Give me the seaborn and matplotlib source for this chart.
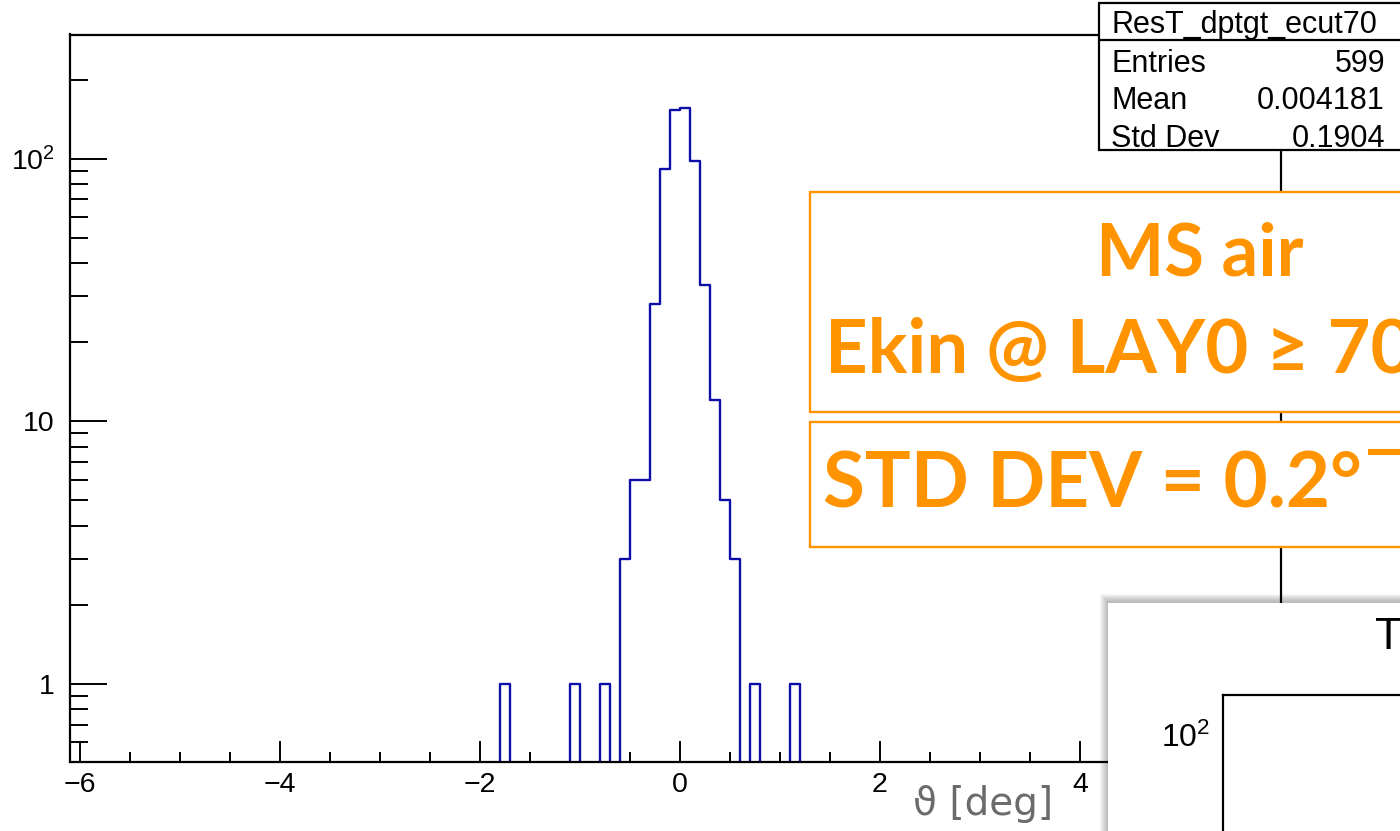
import numpy as np
import pandas as pd
import matplotlib
matplotlib.use("Agg")
import matplotlib.pyplot as plt
from matplotlib.patches import Rectangle
from matplotlib.lines import Line2D
from matplotlib.ticker import FixedLocator, FixedFormatter, MultipleLocator, LogLocator, NullFormatter
import seaborn as sns

# ---------------- data ----------------
bin_centers = [-1.75, -1.05, -0.75, -0.55, -0.45, -0.35, -0.25, -0.15, -0.05,
               0.05, 0.15, 0.25, 0.35, 0.45, 0.55, 0.75, 1.15]
counts = [1, 1, 1, 3, 6, 6, 28, 91, 153, 156, 98, 33, 12, 5, 3, 1, 1]
bin_width = 0.1
hist_range = (-6.1, 6.0)

x_major_ticks = [-6, -4, -2, 0, 2, 4, 6]
y_major_ticks = [1, 10, 100]
y_major_labels = ["1", "10", "$10^{2}$"]

hist_name = "ResT_dptgt_ecut70"
stat_names = ["Entries", "Mean", "Std Dev"]
stat_values = ["599", "0.004181", "0.1904"]

x_title = "ϑ [deg]"
note_line1 = "MS air"
note_line2 = "Ekin @ LAY0 ≥ 70"
note_line3 = "STD DEV = 0.2°"
inset_title = "T"

df = pd.DataFrame({"theta": bin_centers, "count": counts})

# ---------------- style ----------------
sns.set_style("white")
plt.rcParams["font.family"] = ["Liberation Sans", "DejaVu Sans"]
plt.rcParams["mathtext.fontset"] = "custom"
plt.rcParams["mathtext.rm"] = "Liberation Sans"
plt.rcParams["mathtext.it"] = "Liberation Sans:italic"
plt.rcParams["mathtext.bf"] = "Liberation Sans:bold"
plt.rcParams["text.color"] = "black"
plt.rcParams["xtick.color"] = "black"
plt.rcParams["ytick.color"] = "black"
plt.rcParams["xtick.labelcolor"] = "black"
plt.rcParams["ytick.labelcolor"] = "black"

W, H = 1400, 831
fig = plt.figure(figsize=(W / 100, H / 100), dpi=100)
fig.patch.set_facecolor("white")

def fx(px):
    return px / W

def fy(py):
    return 1 - py / H

def fbox(x0, y0, x1, y1):
    return [fx(x0), fy(y1), (x1 - x0) / W, (y1 - y0) / H]

BLACK_LW = 1.6
ORANGE = "#ff9300"
BLUE = "#0d0da8"

# ---------------- main histogram ----------------
ax = fig.add_axes(fbox(70, 34.5, 1280.5, 762.3))
ax.set_zorder(0)
sns.histplot(data=df, x="theta", weights="count", binwidth=bin_width,
             binrange=hist_range, element="step", fill=False, color=BLUE,
             linewidth=1.7, ax=ax)
ax.set_yscale("log")
ax.set_xlim(-6.1, 6.005)
ax.set_ylim(0.503, 297)
ax.set_xlabel("")
ax.set_ylabel("")

ax.xaxis.set_major_locator(FixedLocator(x_major_ticks))
ax.xaxis.set_minor_locator(MultipleLocator(0.5))
ax.yaxis.set_major_locator(FixedLocator(y_major_ticks))
ax.yaxis.set_major_formatter(FixedFormatter(y_major_labels))
ax.yaxis.set_minor_locator(LogLocator(base=10, subs=np.arange(2, 10)))
ax.yaxis.set_minor_formatter(NullFormatter())

for sp in ax.spines.values():
    sp.set_visible(True)
    sp.set_color("black")
    sp.set_linewidth(BLACK_LW)

ax.tick_params(axis="x", which="major", direction="in", length=15, width=1.4,
               labelsize=20.5, pad=7, bottom=True, top=False, colors="black")
ax.tick_params(axis="x", which="minor", direction="in", length=7.5, width=1.4,
               bottom=True, top=False, colors="black")
ax.tick_params(axis="y", which="major", direction="in", length=26.5, width=1.4,
               labelsize=20.5, pad=11, left=True, right=False, colors="black")
ax.tick_params(axis="y", which="minor", direction="in", length=13, width=1.4,
               left=True, right=False, colors="black")

fig.text(fx(913), fy(815), x_title, fontsize=28, color="#6b6b6b",
         family=["DejaVu Sans"], ha="left", va="baseline", zorder=2)

# ---------------- stats box ----------------
fig.add_artist(Rectangle((fx(1099), fy(150)), (1420 - 1099) / W, (150 - 3) / H,
                         transform=fig.transFigure, facecolor="white",
                         edgecolor="black", linewidth=BLACK_LW, zorder=3))
fig.add_artist(Line2D([fx(1099), fx(1420)], [fy(40), fy(40)],
                      transform=fig.transFigure, color="black",
                      linewidth=BLACK_LW, zorder=3.1))
fig.text(fx(1111), fy(33), hist_name, fontsize=22, color="black", ha="left",
         va="baseline", zorder=3.2)
for i, (nm, val) in enumerate(zip(stat_names, stat_values)):
    base = 71.7 + i * 37.5
    fig.text(fx(1111), fy(base), nm, fontsize=22, color="black", ha="left",
             va="baseline", zorder=3.2)
    fig.text(fx(1385), fy(base), val, fontsize=22, color="black", ha="right",
             va="baseline", zorder=3.2)

# ---------------- orange annotation boxes ----------------
for (y0, y1) in [(191.7, 411.7), (421.7, 546.7)]:
    fig.add_artist(Rectangle((fx(810), fy(y1)), (1600 - 810) / W, (y1 - y0) / H,
                             transform=fig.transFigure, facecolor="white",
                             edgecolor=ORANGE, linewidth=1.7, zorder=3))
note_font = ["Lato", "DejaVu Sans"]
fig.text(fx(1200), fy(275), note_line1, fontsize=52, color=ORANGE,
         family=note_font, weight="bold", ha="center", va="baseline", zorder=4)
fig.text(fx(825), fy(373.3), note_line2, fontsize=53.5, color=ORANGE,
         family=note_font, weight="bold", ha="left", va="baseline", zorder=4)
fig.text(fx(823), fy(507.3), note_line3, fontsize=55, color=ORANGE,
         family=note_font, weight="bold", ha="left", va="baseline", zorder=4)
fig.add_artist(Rectangle((fx(1368), fy(454.5)), (1410 - 1368) / W, 5.5 / H,
                         transform=fig.transFigure, facecolor=ORANGE,
                         edgecolor="none", zorder=4))

# ---------------- inset (second canvas screenshot) ----------------
for k in range(8):
    fig.add_artist(Rectangle((fx(1100 + k), fy(1000)), 1500 / W,
                             (1000 - (594 + k)) / H,
                             transform=fig.transFigure, facecolor="black",
                             edgecolor="none", alpha=0.035, zorder=5))
fig.add_artist(Rectangle((fx(1108), fy(1000)), 1000 / W, (1000 - 603) / H,
                         transform=fig.transFigure, facecolor="white",
                         edgecolor="none", zorder=5.1))
fig.text(fx(1375), fy(649), inset_title, fontsize=32, color="black",
         ha="left", va="baseline", zorder=5.2)

iax = fig.add_axes(fbox(1223, 695, 1800, 1000))
iax.set_zorder(6)
iax.set_facecolor("white")
iax.set_yscale("log")
iax.set_ylim(13.6, 135.2)
iax.set_xlim(0, 1)
iax.yaxis.set_major_locator(FixedLocator([100]))
iax.yaxis.set_major_formatter(FixedFormatter(["$10^{2}$"]))
iax.yaxis.set_minor_locator(LogLocator(base=10, subs=np.arange(2, 10)))
iax.yaxis.set_minor_formatter(NullFormatter())
iax.set_xticks([])
for nm, sp in iax.spines.items():
    sp.set_visible(nm in ("left", "top"))
    sp.set_color("black")
    sp.set_linewidth(BLACK_LW)
iax.tick_params(axis="y", which="major", direction="in", length=26, width=1.4,
                labelsize=23, pad=9, colors="black")
iax.tick_params(axis="y", which="minor", direction="in", length=13, width=1.4,
                colors="black")

fig.savefig("out.png", dpi=100, facecolor="white")
